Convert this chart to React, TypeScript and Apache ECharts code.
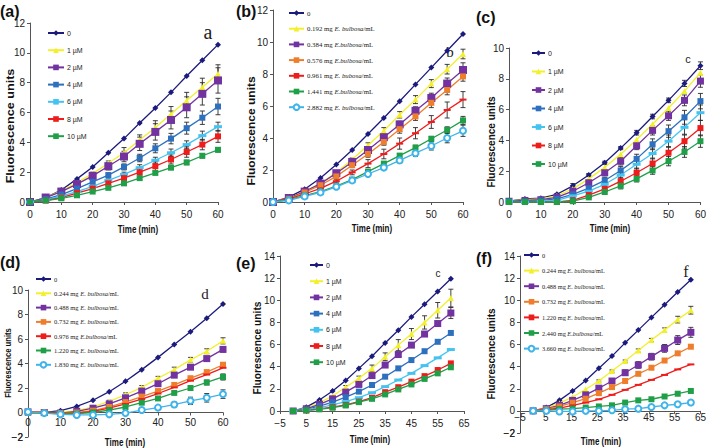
import React, { useEffect, useRef } from "react";
import * as echarts from "echarts";

const TIME = [0, 5, 10, 15, 20, 25, 30, 35, 40, 45, 50, 55, 60];

// ---------- Panel (a) ----------
const A_CTRL = [0, 0.3, 0.8, 1.55, 2.35, 3.3, 4.25, 5.3, 6.3, 7.35, 8.45, 9.5, 10.55];
const A_1UM = [0, 0.3, 0.75, 1.3, 1.9, 2.6, 3.3, 4.15, 5.0, 5.9, 6.8, 7.7, 8.6];
const A_2UM = [0, 0.3, 0.7, 1.2, 1.75, 2.4, 3.05, 3.9, 4.7, 5.5, 6.35, 7.25, 8.15];
const A_4UM = [0, 0.2, 0.5, 0.9, 1.35, 1.8, 2.35, 2.95, 3.6, 4.25, 4.95, 5.65, 6.4];
const A_6UM = [0, 0.15, 0.4, 0.7, 1.05, 1.45, 1.85, 2.3, 2.8, 3.3, 3.85, 4.45, 5.05];
const A_8UM = [0, 0.1, 0.3, 0.6, 0.9, 1.25, 1.6, 2.0, 2.4, 2.85, 3.35, 3.85, 4.4];
const A_10UM = [0, 0.1, 0.25, 0.45, 0.7, 0.95, 1.25, 1.6, 1.95, 2.3, 2.65, 3.1, 3.5];
const A_1UM_ERR = [0, 0, 0, 0, 0.1, 0.15, 0.35, 0.35, 0.45, 0.5, 0.55, 0.6, 0.6];
const A_2UM_ERR = [0, 0, 0, 0, 0.15, 0.25, 0.35, 0.45, 0.55, 0.6, 0.7, 0.75, 0.85];
const A_4UM_ERR = [0, 0, 0, 0, 0.1, 0.15, 0.2, 0.25, 0.3, 0.35, 0.4, 0.45, 0.55];
const A_6UM_ERR = [0, 0, 0, 0, 0.05, 0.1, 0.15, 0.2, 0.2, 0.25, 0.25, 0.3, 0.3];
const A_8UM_ERR = [0, 0, 0, 0, 0.1, 0.15, 0.2, 0.25, 0.3, 0.3, 0.35, 0.35, 0.4];
const A_10UM_ERR = [0, 0, 0, 0, 0, 0.05, 0.1, 0.1, 0.1, 0.1, 0.15, 0.15, 0.15];

// ---------- Panel (b) ----------
const B_CTRL = [0, 0.3, 0.8, 1.5, 2.35, 3.25, 4.25, 5.25, 6.3, 7.35, 8.4, 9.45, 10.5];
const B_192 = [0, 0.25, 0.65, 1.15, 1.85, 2.65, 3.55, 4.45, 5.45, 6.4, 7.4, 8.3, 9.25];
const B_384 = [0, 0.25, 0.65, 1.15, 1.8, 2.5, 3.25, 4.05, 4.85, 5.7, 6.5, 7.4, 8.25];
const B_576 = [0, 0.2, 0.6, 1.05, 1.6, 2.3, 3.0, 3.75, 4.55, 5.35, 6.2, 7.0, 7.85];
const B_961 = [0, 0.2, 0.5, 0.85, 1.3, 1.85, 2.4, 3.0, 3.65, 4.3, 5.0, 5.75, 6.4];
const B_1441 = [0, 0.15, 0.4, 0.65, 1.0, 1.4, 1.9, 2.4, 2.9, 3.4, 3.95, 4.5, 5.1];
const B_2882 = [0, 0.1, 0.35, 0.6, 0.95, 1.35, 1.75, 2.15, 2.6, 3.05, 3.5, 4.0, 4.45];
const B_192_ERR = [0, 0, 0, 0, 0.1, 0.1, 0.15, 0.2, 0.2, 0.25, 0.25, 0.3, 0.3];
const B_384_ERR = [0, 0, 0, 0, 0.1, 0.15, 0.2, 0.2, 0.2, 0.25, 0.3, 0.35, 0.45];
const B_576_ERR = [0, 0, 0, 0, 0.1, 0.15, 0.2, 0.2, 0.25, 0.25, 0.3, 0.3, 0.3];
const B_961_ERR = [0, 0, 0, 0, 0.1, 0.15, 0.25, 0.3, 0.35, 0.35, 0.4, 0.5, 0.5];
const B_1441_ERR = [0, 0, 0, 0, 0, 0.05, 0.1, 0.1, 0.1, 0.15, 0.15, 0.2, 0.25];
const B_2882_ERR = [0, 0, 0, 0, 0, 0.05, 0.1, 0.1, 0.15, 0.2, 0.25, 0.3, 0.35];

// ---------- Panel (c) ----------
const C_CTRL = [0.05, 0.2, 0.25, 0.5, 1.05, 1.75, 2.55, 3.5, 4.5, 5.55, 6.6, 7.7, 8.85];
const C_1UM = [0.05, 0.15, 0.2, 0.4, 0.85, 1.5, 2.25, 3.1, 4.05, 5.05, 6.1, 7.2, 8.4];
const C_2UM = [0.05, 0.1, 0.15, 0.3, 0.7, 1.25, 1.9, 2.65, 3.65, 4.65, 5.6, 6.6, 7.85];
const C_4UM = [0.05, 0.05, 0.1, 0.2, 0.5, 0.9, 1.4, 2.05, 2.8, 3.75, 4.6, 5.5, 6.55];
const C_6UM = [0.05, 0, 0.05, 0.1, 0.4, 0.7, 1.15, 1.75, 2.45, 3.15, 3.95, 4.85, 5.8];
const C_8UM = [0, 0, 0, 0, 0.1, 0.45, 0.85, 1.35, 1.9, 2.5, 3.2, 3.95, 4.8];
const C_10UM = [0, 0, 0, 0, 0.05, 0.3, 0.65, 1.05, 1.5, 2.05, 2.65, 3.25, 3.95];
const C_CTRL_ERR = [0, 0, 0, 0.05, 0.15, 0.1, 0.1, 0.1, 0.15, 0.15, 0.15, 0.2, 0.25];
const C_2UM_ERR = [0, 0, 0, 0, 0.1, 0.15, 0.2, 0.25, 0.25, 0.3, 0.3, 0.35, 0.4];
const C_4UM_ERR = [0, 0, 0, 0, 0.1, 0.15, 0.2, 0.25, 0.3, 0.35, 0.4, 0.45, 0.5];
const C_6UM_ERR = [0, 0, 0, 0, 0.1, 0.15, 0.2, 0.25, 0.3, 0.35, 0.4, 0.5, 0.5];
const C_8UM_ERR = [0, 0, 0, 0, 0.1, 0.15, 0.2, 0.25, 0.3, 0.35, 0.4, 0.45, 0.5];
const C_10UM_ERR = [0, 0, 0, 0, 0.05, 0.1, 0.15, 0.2, 0.2, 0.25, 0.3, 0.35, 0.4];

// ---------- Panel (d) ----------
const D_CTRL = [0, 0, 0.15, 0.5, 1.0, 1.7, 2.55, 3.5, 4.5, 5.55, 6.6, 7.7, 8.85];
const D_244 = [0, 0, 0, 0.15, 0.45, 0.9, 1.45, 2.05, 2.8, 3.5, 4.3, 5.0, 5.85];
const D_488 = [0.05, 0, -0.05, 0.1, 0.35, 0.7, 1.2, 1.75, 2.35, 3.05, 3.7, 4.4, 5.15];
const D_732 = [0, 0, -0.05, 0, 0.15, 0.45, 0.85, 1.3, 1.75, 2.25, 2.8, 3.3, 3.9];
const D_976 = [0, 0, -0.05, -0.05, 0.1, 0.35, 0.7, 1.1, 1.55, 2.05, 2.6, 3.1, 3.65];
const D_1220 = [0, -0.05, -0.1, -0.1, 0, 0.2, 0.45, 0.8, 1.15, 1.6, 2.0, 2.45, 2.9];
const D_1830 = [0.05, -0.05, -0.15, -0.2, -0.2, -0.15, -0.05, 0.2, 0.4, 0.65, 0.95, 1.2, 1.5];
const D_244_ERR = [0, 0, 0, 0, 0, 0.1, 0.15, 0.15, 0.15, 0.2, 0.2, 0.2, 0.25];
const D_488_ERR = [0, 0, 0, 0, 0, 0.05, 0.1, 0.1, 0.15, 0.15, 0.15, 0.15, 0.2];
const D_1220_ERR = [0, 0, 0, 0, 0, 0, 0.05, 0.05, 0.1, 0.1, 0.15, 0.2, 0.25];
const D_1830_ERR = [0, 0, 0, 0, 0, 0, 0, 0.1, 0.1, 0.2, 0.3, 0.35, 0.35];

// ---------- Panel (e) ----------
const E_CTRL = [0, 0.35, 1.0, 1.8, 2.75, 3.85, 4.95, 6.15, 7.3, 8.5, 9.65, 10.8, 11.95];
const E_1UM = [0, 0.25, 0.75, 1.35, 2.15, 2.95, 3.85, 4.9, 5.95, 6.95, 8.0, 9.1, 10.2];
const E_2UM = [0, 0.2, 0.6, 1.1, 1.7, 2.4, 3.2, 4.15, 5.1, 5.95, 6.95, 7.9, 8.85];
const E_4UM = [0, 0.15, 0.45, 0.8, 1.25, 1.75, 2.35, 3.1, 3.85, 4.6, 5.4, 6.25, 7.05];
const E_6UM = [0, 0.1, 0.3, 0.55, 0.85, 1.2, 1.65, 2.2, 2.8, 3.4, 4.1, 4.8, 5.55];
const E_8UM = [0, 0.05, 0.2, 0.35, 0.55, 0.85, 1.2, 1.7, 2.15, 2.65, 3.15, 3.7, 4.3];
const E_10UM = [0, 0.05, 0.15, 0.3, 0.5, 0.8, 1.1, 1.5, 1.95, 2.4, 2.9, 3.4, 3.95];
const E_1UM_ERR = [0, 0, 0, 0, 0.15, 0.2, 0.3, 0.35, 0.5, 0.5, 0.6, 0.7, 0.8];
const E_2UM_ERR = [0, 0, 0, 0, 0.1, 0.1, 0.1, 0.1, 0.15, 0.15, 0.15, 0.15, 0.5];

// ---------- Panel (f) ----------
const F_CTRL = [0, 0.3, 0.95, 1.8, 2.75, 3.85, 4.95, 6.15, 7.3, 8.45, 9.6, 10.75, 11.85];
const F_244 = [0, 0.25, 0.7, 1.25, 1.95, 2.7, 3.6, 4.5, 5.45, 6.4, 7.3, 8.25, 9.1];
const F_488 = [0, 0.2, 0.5, 0.95, 1.45, 2.05, 2.7, 3.45, 4.15, 4.9, 5.65, 6.4, 7.1];
const F_732 = [0, 0.15, 0.4, 0.75, 1.1, 1.6, 2.15, 2.7, 3.35, 3.9, 4.55, 5.2, 5.8];
const F_1220 = [0, 0.1, 0.25, 0.5, 0.75, 1.05, 1.45, 1.9, 2.35, 2.8, 3.25, 3.75, 4.2];
const F_2440 = [0, 0.05, 0.15, 0.2, 0.3, 0.4, 0.5, 0.75, 0.95, 1.05, 1.3, 1.55, 1.8];
const F_3660 = [0, 0, -0.05, -0.05, 0, 0, 0.05, 0.15, 0.2, 0.35, 0.5, 0.6, 0.75];
const F_244_ERR = [0, 0, 0, 0, 0, 0.1, 0.1, 0.1, 0.15, 0.15, 0.2, 0.3, 0.35];
const F_488_ERR = [0, 0, 0, 0, 0.1, 0.15, 0.2, 0.25, 0.3, 0.3, 0.35, 0.4, 0.45];

// tick values for the y axes
const Y_TICKS_12 = [0, 2, 4, 6, 8, 10, 12];
const Y_TICKS_10 = [0, 2, 4, 6, 8, 10];
const Y_TICKS_D = [-2, 0, 2, 4, 6, 8, 10];
const Y_TICKS_14 = [0, 2, 4, 6, 8, 10, 12, 14];
const Y_TICKS_F = [-2, 0, 2, 4, 6, 8, 10, 12, 14];

// legend labels
const UM_LABELS = ["0", "1 µM", "2 µM", "4 µM", "6 µM", "8 µM", "10 µM"];
const B_LABELS = ["0", "0.192 mg *E. bulbosa*/mL", "0.384 mg *E.bulbosa*/mL", "0.576 mg *E.bulbosa*/mL", "0.961 mg *E. bubosa*/mL", "1.441 mg *E.bulbosa*/mL", "2.882 mg *E. bulbosa*/mL"];
const D_LABELS = ["0", "0.244 mg *E. bulbosa*/mL", "0.488 mg *E. bulbosa*/mL", "0.732 mg *E. bulbosa*/mL", "0.976 mg *E.bulbosa*/mL", "1.220 mg *E. bulbosa*/mL", "1.830 mg *E. bulbosa*/mL"];
const F_LABELS = ["0", "0.244 mg *E. bulbosa*/mL", "0.488 mg *E. bulbosa*/mL", "0.732 mg *E. bulbosa*/mL", "1.220 mg *E. bulbosa*/mL", "2.440 mg *E.bulbosa*/mL", "3.660 mg *E. bulbosa*/mL"];

const SANS = "'Liberation Sans', Arial, Helvetica, sans-serif";
const SERIF = "'Liberation Serif', 'Times New Roman', serif";

type SKey = "navy" | "yellow" | "purple" | "blue" | "cyanDash" | "red" | "green" | "orange" | "redDash" | "cyanCircle";
const STYLE: Record<SKey, { color: string; symbol: string; size: number | number[] }> = {
  navy: { color: "#1b1b7d", symbol: "diamond", size: 6 },
  yellow: { color: "#f3f02a", symbol: "triangle", size: 6 },
  purple: { color: "#7232a0", symbol: "rect", size: 8 },
  blue: { color: "#2d70bd", symbol: "rect", size: 6 },
  cyanDash: { color: "#45c3f0", symbol: "rect", size: [8, 3] },
  red: { color: "#ef1c1c", symbol: "rect", size: 6 },
  green: { color: "#1f9f48", symbol: "rect", size: 6 },
  orange: { color: "#ee7d2c", symbol: "rect", size: 6 },
  redDash: { color: "#ef1c1c", symbol: "rect", size: [7, 2] },
  cyanCircle: { color: "#3fb4ea", symbol: "emptyCircle", size: 6 },
};

interface SDef { values: number[]; err?: number[]; style: SKey }
interface PDef {
  key: string;
  grid: { left: number; top: number; width: number; height: number };
  x: [number, number, number];
  y: [number, number, number];
  yTicks: number[];
  xLabelMargin: number;
  labels: string[];
  legend: { left: number; top: number; gap: number; iconW: number; serif: boolean; font: number };
  series: SDef[];
}

const PANELS: PDef[] = [
  {
    key: "a", grid: { left: 30, top: 23, width: 188, height: 179 }, x: [0, 60, 10], y: [0, 12, 2], yTicks: Y_TICKS_12, xLabelMargin: 7,
    labels: UM_LABELS, legend: { left: 47, top: 29, gap: 9.2, iconW: 16, serif: false, font: 7 },
    series: [
      { values: A_CTRL, style: "navy" },
      { values: A_1UM, err: A_1UM_ERR, style: "yellow" },
      { values: A_2UM, err: A_2UM_ERR, style: "purple" },
      { values: A_4UM, err: A_4UM_ERR, style: "blue" },
      { values: A_6UM, err: A_6UM_ERR, style: "cyanDash" },
      { values: A_8UM, err: A_8UM_ERR, style: "red" },
      { values: A_10UM, err: A_10UM_ERR, style: "green" },
    ],
  },
  {
    key: "b", grid: { left: 273, top: 10, width: 190, height: 192 }, x: [0, 60, 10], y: [0, 12, 2], yTicks: Y_TICKS_12, xLabelMargin: 7,
    labels: B_LABELS, legend: { left: 288, top: 9, gap: 7.7, iconW: 15, serif: true, font: 6.8 },
    series: [
      { values: B_CTRL, style: "navy" },
      { values: B_192, err: B_192_ERR, style: "yellow" },
      { values: B_384, err: B_384_ERR, style: "purple" },
      { values: B_576, err: B_576_ERR, style: "orange" },
      { values: B_961, err: B_961_ERR, style: "redDash" },
      { values: B_1441, err: B_1441_ERR, style: "green" },
      { values: B_2882, err: B_2882_ERR, style: "cyanCircle" },
    ],
  },
  {
    key: "c", grid: { left: 509, top: 48, width: 195, height: 154 }, x: [0, 60, 10], y: [0, 10, 2], yTicks: Y_TICKS_10, xLabelMargin: 7,
    labels: UM_LABELS, legend: { left: 531, top: 49, gap: 10.5, iconW: 13, serif: false, font: 7 },
    series: [
      { values: C_CTRL, err: C_CTRL_ERR, style: "navy" },
      { values: C_1UM, style: "yellow" },
      { values: C_2UM, err: C_2UM_ERR, style: "purple" },
      { values: C_4UM, err: C_4UM_ERR, style: "blue" },
      { values: C_6UM, err: C_6UM_ERR, style: "cyanDash" },
      { values: C_8UM, err: C_8UM_ERR, style: "red" },
      { values: C_10UM, err: C_10UM_ERR, style: "green" },
    ],
  },
  {
    key: "d", grid: { left: 28, top: 290, width: 195, height: 147 }, x: [0, 60, 10], y: [-2, 10, 2], yTicks: Y_TICKS_D, xLabelMargin: 5,
    labels: D_LABELS, legend: { left: 35, top: 275, gap: 6.3, iconW: 15, serif: true, font: 6.5 },
    series: [
      { values: D_CTRL, style: "navy" },
      { values: D_244, err: D_244_ERR, style: "yellow" },
      { values: D_488, err: D_488_ERR, style: "purple" },
      { values: D_732, style: "orange" },
      { values: D_976, style: "redDash" },
      { values: D_1220, err: D_1220_ERR, style: "green" },
      { values: D_1830, err: D_1830_ERR, style: "cyanCircle" },
    ],
  },
  {
    key: "e", grid: { left: 280, top: 256, width: 184, height: 155 }, x: [-5, 65, 10], y: [0, 14, 2], yTicks: Y_TICKS_14, xLabelMargin: 7,
    labels: UM_LABELS, legend: { left: 309, top: 261, gap: 8.2, iconW: 13, serif: false, font: 7 },
    series: [
      { values: E_CTRL, style: "navy" },
      { values: E_1UM, err: E_1UM_ERR, style: "yellow" },
      { values: E_2UM, err: E_2UM_ERR, style: "purple" },
      { values: E_4UM, style: "blue" },
      { values: E_6UM, style: "cyanDash" },
      { values: E_8UM, style: "red" },
      { values: E_10UM, style: "green" },
    ],
  },
  {
    key: "f", grid: { left: 520, top: 256, width: 184, height: 177 }, x: [-5, 65, 10], y: [-2, 14, 2], yTicks: Y_TICKS_F, xLabelMargin: 2,
    labels: F_LABELS, legend: { left: 523, top: 251, gap: 7.6, iconW: 15, serif: true, font: 6.3 },
    series: [
      { values: F_CTRL, style: "navy" },
      { values: F_244, err: F_244_ERR, style: "yellow" },
      { values: F_488, err: F_488_ERR, style: "purple" },
      { values: F_732, style: "orange" },
      { values: F_1220, style: "redDash" },
      { values: F_2440, style: "green" },
      { values: F_3660, style: "cyanCircle" },
    ],
  },
];

// text annotations (panel tags, letters, axis titles)
const TAGS = [
  { t: "(a)", x: 0, y: 11 }, { t: "(b)", x: 236, y: 11 }, { t: "(c)", x: 476, y: 17 },
  { t: "(d)", x: 0, y: 262 }, { t: "(e)", x: 236, y: 263 }, { t: "(f)", x: 476, y: 258 },
];
const LETTERS = [
  { t: "a", x: 208, y: 32, size: 20, serif: true },
  { t: "b", x: 450, y: 52, size: 15, serif: true },
  { t: "c", x: 688, y: 59, size: 11, serif: false },
  { t: "d", x: 205, y: 294, size: 15, serif: true },
  { t: "c", x: 438, y: 273, size: 10, serif: false },
  { t: "f", x: 686, y: 271, size: 16, serif: true },
];
const Y_TITLES = [
  { x: 10, y: 126, size: 10, sx: 1.26 }, { x: 251, y: 131, size: 10, sx: 1.2 }, { x: 491, y: 142, size: 10, sx: 1.0 },
  { x: 8, y: 363, size: 9, sx: 0.85 }, { x: 258, y: 348, size: 10, sx: 1.02 }, { x: 491, y: 354, size: 10, sx: 1.0 },
];
const X_TITLES = [
  { x: 138, y: 230 }, { x: 372, y: 229 }, { x: 610, y: 229 },
  { x: 125, y: 443 }, { x: 370, y: 440 }, { x: 601, y: 442 },
];

function richLabel(s: string): string {
  const parts = s.split("*");
  return parts.map((p, i) => (p === "" ? "" : `{${i % 2 === 1 ? "i" : "n"}|${p}}`)).join("");
}

const fmtNum = (v: number) => {
  const r = Math.round(v);
  return r < 0 ? "\u2212" + Math.abs(r) : String(r);
};

export default function App() {
  const ref = useRef<HTMLDivElement>(null);
  useEffect(() => {
    if (!ref.current) return;
    const chart = echarts.init(ref.current, undefined, { renderer: "svg" });
    const axisLineStyle = { color: "#555", width: 1 };
    const labelFont = { fontSize: 10, fontFamily: SANS, color: "#222" };

    const nameMap: Record<string, string> = {};
    const series: any[] = [];
    const legends: any[] = [];
    const grids: any[] = [];
    const xAxes: any[] = [];
    const yAxes: any[] = [];
    const auxGrids: any[] = [];
    const auxX: any[] = [];
    const auxY: any[] = [];

    PANELS.forEach((p, pi) => {
      const crossesZero = p.y[0] < 0;
      grids.push({ ...p.grid, containLabel: false });
      const xLabel = { ...labelFont, margin: p.xLabelMargin, formatter: fmtNum, showMinLabel: true, showMaxLabel: true };
      xAxes.push({
        type: "value", gridIndex: pi, min: p.x[0], max: p.x[1], interval: p.x[2],
        show: !crossesZero,
        position: crossesZero ? "top" : "bottom",
        axisLine: { show: !crossesZero, onZero: false, lineStyle: axisLineStyle },
        axisTick: { show: !crossesZero, length: 3, lineStyle: { color: "#555" } },
        splitLine: { show: false },
        axisLabel: { ...xLabel, show: !crossesZero },
      });
      yAxes.push({
        type: "value", gridIndex: pi, min: p.y[0], max: p.y[1], interval: p.y[2],
        axisLine: { show: true, onZero: false, lineStyle: axisLineStyle },
        axisTick: { show: true, length: 3, lineStyle: { color: "#555" } },
        splitLine: { show: false },
        axisLabel: { ...labelFont, margin: 5, formatter: fmtNum, showMinLabel: true, showMaxLabel: true, hideOverlap: false },
      });
      if (crossesZero) {
        // auxiliary grid whose bottom edge is the zero line, carrying the visible time axis
        const h = (p.grid.height * p.y[1]) / (p.y[1] - p.y[0]);
        auxGrids.push({ left: p.grid.left, top: p.grid.top, width: p.grid.width, height: h, containLabel: false });
        auxX.push({
          type: "value", min: p.x[0], max: p.x[1], interval: p.x[2],
          axisLine: { show: true, onZero: false, lineStyle: axisLineStyle },
          axisTick: { show: true, length: 3, lineStyle: { color: "#555" } },
          splitLine: { show: false },
          axisLabel: xLabel,
        });
        auxY.push({ type: "value", min: 0, max: p.y[1], show: false, splitLine: { show: false } });
      }

      const names: string[] = [];
      p.series.forEach((s, si) => {
        const st = STYLE[s.style];
        const name = `${p.key}::${si}`;
        names.push(name);
        nameMap[name] = p.legend.serif ? richLabel(p.labels[si]) : p.labels[si];
        const size = s.style === "purple" && (p.key === "c" || p.key === "d" || p.key === "e" || p.key === "f") ? 7 : st.size;
        series.push({
          type: "line",
          name,
          xAxisIndex: pi,
          yAxisIndex: pi,
          data: TIME.map((t, i) => [t, s.values[i]]),
          symbol: st.symbol,
          symbolSize: size,
          showSymbol: true,
          lineStyle: { color: st.color, width: 1.3 },
          itemStyle: { color: st.color, borderColor: st.color, borderWidth: st.symbol === "emptyCircle" ? 1.3 : 0 },
          z: 3,
          silent: true,
          clip: false,
        });
        if (s.err) {
          const err = s.err;
          series.push({
            type: "custom",
            name: `${name}::err`,
            xAxisIndex: pi,
            yAxisIndex: pi,
            coordinateSystem: "cartesian2d",
            encode: { x: 0, y: 1 },
            data: TIME.map((t, i) => [t, s.values[i], err[i]]).filter((d) => d[2] > 0),
            z: 2,
            silent: true,
            clip: false,
            renderItem: (_params: any, api: any) => {
              const x = api.value(0);
              const y = api.value(1);
              const e = api.value(2);
              const top = api.coord([x, y + e]);
              const bot = api.coord([x, y - e]);
              const w = 2.5;
              const style = { stroke: "#2b2b2b", lineWidth: 0.9 };
              return {
                type: "group",
                children: [
                  { type: "line", shape: { x1: top[0], y1: top[1], x2: bot[0], y2: bot[1] }, style },
                  { type: "line", shape: { x1: top[0] - w, y1: top[1], x2: top[0] + w, y2: top[1] }, style },
                  { type: "line", shape: { x1: bot[0] - w, y1: bot[1], x2: bot[0] + w, y2: bot[1] }, style },
                ],
              };
            },
          });
        }
      });
      const lf = p.legend.serif ? SERIF : SANS;
      legends.push({
        data: names,
        orient: "vertical",
        left: p.legend.left,
        top: p.legend.top,
        padding: 0,
        itemGap: p.legend.gap,
        itemWidth: p.legend.iconW,
        itemHeight: 7,
        selectedMode: false,
        formatter: (n: string) => nameMap[n],
        textStyle: {
          fontSize: p.legend.font,
          fontFamily: lf,
          color: "#222",
          lineHeight: 8,
          padding: [0, 0, 0, -2],
          rich: {
            n: { fontSize: p.legend.font, fontFamily: lf, color: "#222", lineHeight: 8 },
            i: { fontSize: p.legend.font, fontFamily: lf, fontStyle: "italic", color: "#222", lineHeight: 8 },
          },
        },
      });
    });

    // attach auxiliary grids/axes after the six main ones
    auxGrids.forEach((g, k) => {
      const gi = grids.length;
      grids.push(g);
      xAxes.push({ ...auxX[k], gridIndex: gi });
      yAxes.push({ ...auxY[k], gridIndex: gi });
    });

    const graphic: any[] = [];
    TAGS.forEach((g) =>
      graphic.push({
        type: "text", x: g.x, y: g.y, silent: true,
        style: { text: g.t, fontSize: 16, fontWeight: "bold", fontFamily: SANS, fill: "#111", align: "left", verticalAlign: "middle", textAlign: "left", textVerticalAlign: "middle" },
      })
    );
    LETTERS.forEach((g) =>
      graphic.push({
        type: "text", x: g.x, y: g.y, silent: true,
        style: { text: g.t, fontSize: g.size, fontFamily: g.serif ? SERIF : SANS, fill: "#222", align: "center", verticalAlign: "middle", textAlign: "center", textVerticalAlign: "middle" },
      })
    );
    Y_TITLES.forEach((g) =>
      graphic.push({
        type: "text", x: g.x, y: g.y, rotation: Math.PI / 2, scaleX: g.sx, silent: true,
        style: { text: "Fluorescence units", fontSize: g.size, fontWeight: "bold", fontFamily: SANS, fill: "#111", align: "center", verticalAlign: "middle", textAlign: "center", textVerticalAlign: "middle" },
      })
    );
    X_TITLES.forEach((g) =>
      graphic.push({
        type: "text", x: g.x, y: g.y, scaleX: 0.8, silent: true,
        style: { text: "Time (min)", fontSize: 10, fontWeight: "bold", fontFamily: SANS, fill: "#111", align: "center", verticalAlign: "middle", textAlign: "center", textVerticalAlign: "middle" },
      })
    );

    chart.setOption({
      animation: false,
      backgroundColor: "#ffffff",
      grid: grids,
      xAxis: xAxes,
      yAxis: yAxes,
      legend: legends,
      series,
      graphic,
    });

    // negative y tick labels, placed through the panel grid's own coordinate system
    const extra: any[] = [];
    PANELS.forEach((p, pi) => {
      p.yTicks.filter((v) => v < 0).forEach((v) => {
        let px: any = null;
        try {
          px = chart.convertToPixel({ gridIndex: pi } as any, [p.x[0], v]);
        } catch (e) {
          px = null;
        }
        let x: number;
        let y: number;
        if (Array.isArray(px) && isFinite(px[0]) && isFinite(px[1])) {
          x = px[0];
          y = px[1];
        } else {
          x = p.grid.left;
          y = p.grid.top + (p.grid.height * (p.y[1] - v)) / (p.y[1] - p.y[0]);
        }
        extra.push({
          type: "text", x: x - 5, y, silent: true, z: 100,
          style: { text: fmtNum(v), fontSize: 10, fontFamily: SANS, fill: "#222", align: "right", verticalAlign: "middle", textAlign: "right", textVerticalAlign: "middle" },
        });
      });
    });
    if (extra.length) chart.setOption({ graphic: [...graphic, ...extra] });

    return () => chart.dispose();
  }, []);
  return <div ref={ref} style={{ position: "absolute", left: 0, top: 0, width: 709, height: 448 }} />;
}
